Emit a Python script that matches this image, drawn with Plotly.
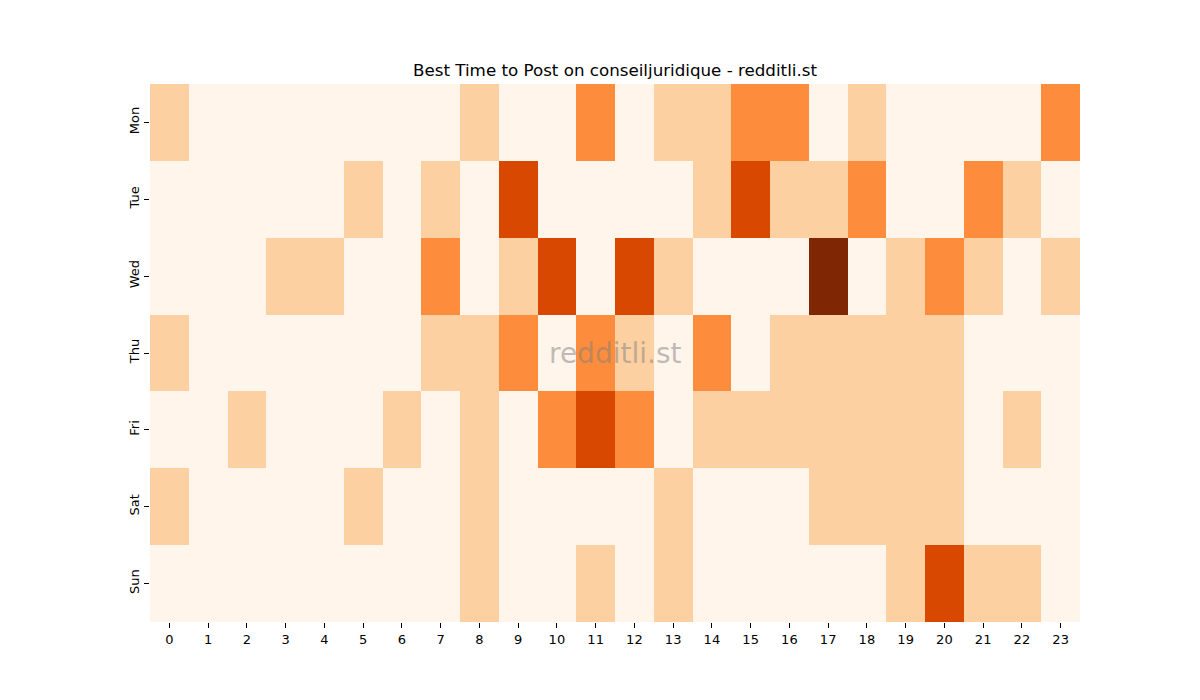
import plotly.graph_objects as go

days = ["Mon", "Tue", "Wed", "Thu", "Fri", "Sat", "Sun"]
hours = list(range(24))

# activity level per hour (0-4)
mon = [1, 0, 0, 0, 0, 0, 0, 0, 1, 0, 0, 2, 0, 1, 1, 2, 2, 0, 1, 0, 0, 0, 0, 2]
tue = [0, 0, 0, 0, 0, 1, 0, 1, 0, 3, 0, 0, 0, 0, 1, 3, 1, 1, 2, 0, 0, 2, 1, 0]
wed = [0, 0, 0, 1, 1, 0, 0, 2, 0, 1, 3, 0, 3, 1, 0, 0, 0, 4, 0, 1, 2, 1, 0, 1]
thu = [1, 0, 0, 0, 0, 0, 0, 1, 1, 2, 0, 2, 1, 0, 2, 0, 1, 1, 1, 1, 1, 0, 0, 0]
fri = [0, 0, 1, 0, 0, 0, 1, 0, 1, 0, 2, 3, 2, 0, 1, 1, 1, 1, 1, 1, 1, 0, 1, 0]
sat = [1, 0, 0, 0, 0, 1, 0, 0, 1, 0, 0, 0, 0, 1, 0, 0, 0, 1, 1, 1, 1, 0, 0, 0]
sun = [0, 0, 0, 0, 0, 0, 0, 0, 1, 0, 0, 1, 0, 1, 0, 0, 0, 0, 0, 1, 3, 1, 1, 0]

z = [mon, tue, wed, thu, fri, sat, sun]

oranges = ["#fff5eb", "#fee6ce", "#fdd0a2", "#fdae6b", "#fd8d3c",
           "#f16913", "#d94801", "#a63603", "#7f2704"]
scale = [[i / 8, c] for i, c in enumerate(oranges)]

fig = go.Figure(go.Heatmap(
    z=z, x=hours, y=days,
    colorscale=scale, zmin=0, zmax=4,
    showscale=False, xgap=0, ygap=0,
))

# page body adds 8px, so margins are shifted by 8
fig.update_layout(
    width=1200, height=700,
    margin=dict(l=142, r=128, t=76, b=86),
    paper_bgcolor="white", plot_bgcolor="white",
    font=dict(family="DejaVu Sans", size=13, color="black"),
    title=dict(text="Best Time to Post on conseiljuridique - redditli.st",
               x=(142 + 1072) / 2 / 1200, xanchor="center",
               y=1 - 62 / 700, yanchor="middle",
               font=dict(size=16.7)),
    xaxis=dict(tickmode="array", tickvals=hours, ticks="outside",
               ticklen=5, tickcolor="black", showgrid=False, zeroline=False),
    yaxis=dict(autorange="reversed", ticks="outside", ticklen=5,
               tickcolor="black", tickangle=-90, showgrid=False,
               zeroline=False),
    annotations=[dict(text="redditli.st", x=0.5, y=0.5, xref="paper",
                      yref="paper", showarrow=False,
                      font=dict(size=28, color="rgba(128,128,128,0.5)"))],
)

fig.write_html("out.html")
